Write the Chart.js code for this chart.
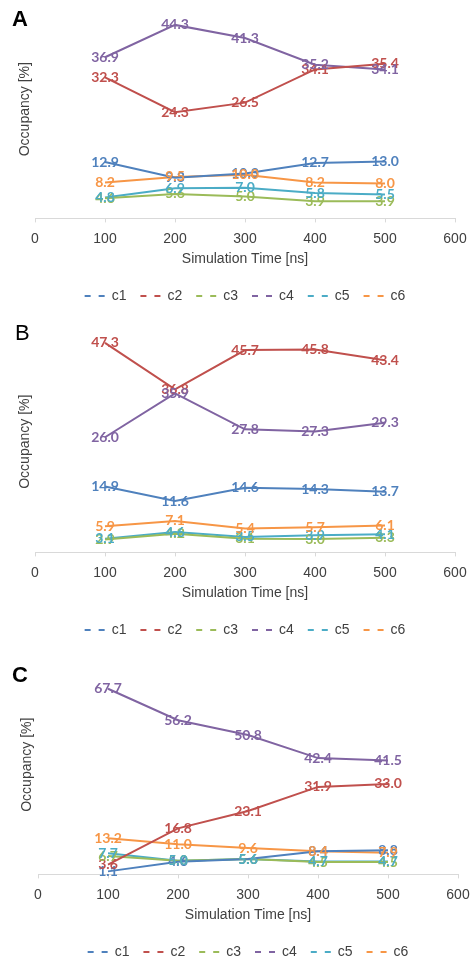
<!DOCTYPE html>
<html>
<head>
<meta charset="utf-8">
<script src="https://cdn.jsdelivr.net/npm/chart.js@4.4.1/dist/chart.umd.min.js"></script>
<style>
  html, body { margin: 0; padding: 0; background: #fff; width: 471px; height: 959px; overflow: hidden; }
  .panel { position: absolute; left: 0; width: 471px; }
  canvas { display: block; }
</style>
</head>
<body>
<div class="panel" style="top:0px"><canvas id="chartA" width="471" height="317"></canvas></div>
<div class="panel" style="top:320px"><canvas id="chartB" width="471" height="331"></canvas></div>
<div class="panel" style="top:650px"><canvas id="chartC" width="471" height="323"></canvas></div>
<script>
// ---- data ----
const times = [100, 200, 300, 400, 500];
const seriesNames = ['c1', 'c2', 'c3', 'c4', 'c5', 'c6'];
const seriesColors = ['#4F81BD', '#C0504D', '#9BBB59', '#8064A2', '#4BACC6', '#F79646'];
const xTickValues = [0, 100, 200, 300, 400, 500, 600];

// Panel A
const aC1 = [12.9, 9.3, 10.3, 12.7, 13.0];
const aC2 = [32.3, 24.3, 26.5, 34.1, 35.4];
const aC3 = [4.6, 5.6, 5.0, 3.9, 3.9];
const aC4 = [36.9, 44.3, 41.3, 35.2, 34.1];
const aC5 = [4.8, 6.9, 7.0, 5.8, 5.5];
const aC6 = [8.2, 9.5, 10.0, 8.2, 8.0];

// Panel B
const bC1 = [14.9, 11.6, 14.6, 14.3, 13.7];
const bC2 = [47.3, 36.8, 45.7, 45.8, 43.4];
const bC3 = [2.9, 4.2, 3.1, 3.0, 3.3];
const bC4 = [26.0, 35.9, 27.8, 27.3, 29.3];
const bC5 = [3.1, 4.6, 3.5, 3.9, 4.1];
const bC6 = [5.9, 7.1, 5.4, 5.7, 6.1];

// Panel C
const cC1 = [1.1, 4.6, 5.6, 8.4, 8.8];
const cC2 = [3.6, 16.8, 23.1, 31.9, 33.0];
const cC3 = [6.7, 5.0, 5.6, 4.5, 4.5];
const cC4 = [67.7, 56.2, 50.8, 42.4, 41.5];
const cC5 = [7.7, 5.0, 5.6, 4.7, 4.7];
const cC6 = [13.2, 11.0, 9.6, 8.4, 7.9];

const xTitle = 'Simulation Time [ns]';
const yTitle = 'Occupancy [%]';

// ---- plugins ----
const valueLabels = {
  id: 'valueLabels',
  afterDatasetsDraw(chart) {
    const ctx = chart.ctx;
    ctx.save();
    ctx.font = 'bold 14px Lato, "Open Sans", sans-serif';
    ctx.textAlign = 'center';
    ctx.textBaseline = 'middle';
    chart.data.datasets.forEach((ds, i) => {
      const meta = chart.getDatasetMeta(i);
      meta.data.forEach((pt, j) => {
        ctx.fillStyle = ds.borderColor;
        ctx.fillText(ds.data[j].y.toFixed(1), pt.x, pt.y);
      });
    });
    ctx.restore();
  }
};

const panelDeco = {
  id: 'panelDeco',
  afterDraw(chart, args, opts) {
    const ctx = chart.ctx;
    const area = chart.chartArea;
    ctx.save();
    ctx.fillStyle = '#000';
    ctx.font = (opts.bold ? 'bold ' : '') + '22px "Liberation Sans", Arial, sans-serif';
    ctx.textAlign = 'left';
    ctx.textBaseline = 'middle';
    ctx.fillText(opts.letter, opts.letterX, opts.letterY);
    ctx.translate(opts.yTitleX, (area.top + area.bottom) / 2);
    ctx.rotate(-Math.PI / 2);
    ctx.font = '14px "Liberation Sans", Arial, sans-serif';
    ctx.fillStyle = '#404040';
    ctx.textAlign = 'center';
    ctx.fillText(yTitle, 0, 0);
    ctx.restore();
  }
};

function makeDatasets(arrays) {
  return arrays.map((arr, i) => ({
    label: seriesNames[i],
    data: arr.map((v, j) => ({ x: times[j], y: v })),
    borderColor: seriesColors[i],
    backgroundColor: seriesColors[i],
    borderWidth: 2,
    pointRadius: 0,
    tension: 0,
    fill: false
  }));
}

function makeChart(id, arrays, yMax, pad, deco) {
  return new Chart(document.getElementById(id), {
    type: 'line',
    data: { datasets: makeDatasets(arrays) },
    options: {
      responsive: false,
      animation: false,
      devicePixelRatio: 1,
      layout: { padding: pad },
      scales: {
        x: {
          type: 'linear',
          min: 0, max: 600,
          afterBuildTicks(scale) { scale.ticks = xTickValues.map(v => ({ value: v })); },
          afterFit(scale) { scale.paddingLeft = 0; scale.paddingRight = 0; },
          grid: { drawOnChartArea: false, drawTicks: true, tickLength: 4, color: '#D9D9D9' },
          border: { display: true, color: '#D9D9D9', width: 1 },
          ticks: { color: '#404040', padding: 8, maxRotation: 0, font: { family: '"Liberation Sans", Arial, sans-serif', size: 14 } },
          title: { display: true, text: xTitle, color: '#404040', padding: { top: -4, bottom: 7 }, font: { family: '"Liberation Sans", Arial, sans-serif', size: 14 } }
        },
        y: {
          display: false,
          min: 0, max: yMax
        }
      },
      plugins: {
        tooltip: { enabled: false },
        legend: {
          display: true,
          position: 'bottom',
          labels: {
            usePointStyle: true,
            pointStyle: 'line',
            pointStyleWidth: 20,
            padding: 14,
            color: '#404040',
            font: { family: '"Liberation Sans", Arial, sans-serif', size: 14 },
            generateLabels(chart) {
              return chart.data.datasets.map((ds, i) => ({
                text: ds.label,
                fillStyle: ds.borderColor,
                strokeStyle: ds.borderColor,
                lineWidth: 2,
                lineDash: [6, 8],
                pointStyle: 'line',
                hidden: false,
                datasetIndex: i,
                fontColor: '#404040'
              }));
            }
          }
        },
        panelDeco: deco
      }
    },
    plugins: [valueLabels, panelDeco]
  });
}

makeChart('chartA', [aC1, aC2, aC3, aC4, aC5, aC6], 50,
  { top: 0, left: 35, right: 16, bottom: 4 },
  { letter: 'A', bold: true, letterX: 12, letterY: 20, yTitleX: 25 });
makeChart('chartB', [bC1, bC2, bC3, bC4, bC5, bC6], 50,
  { top: 11, left: 35, right: 16, bottom: 4 },
  { letter: 'B', bold: false, letterX: 15, letterY: 14, yTitleX: 25 });
makeChart('chartC', [cC1, cC2, cC3, cC4, cC5, cC6], 80,
  { top: 5, left: 38, right: 13, bottom: 4 },
  { letter: 'C', bold: true, letterX: 12, letterY: 26, yTitleX: 27 });
</script>
</body>
</html>
